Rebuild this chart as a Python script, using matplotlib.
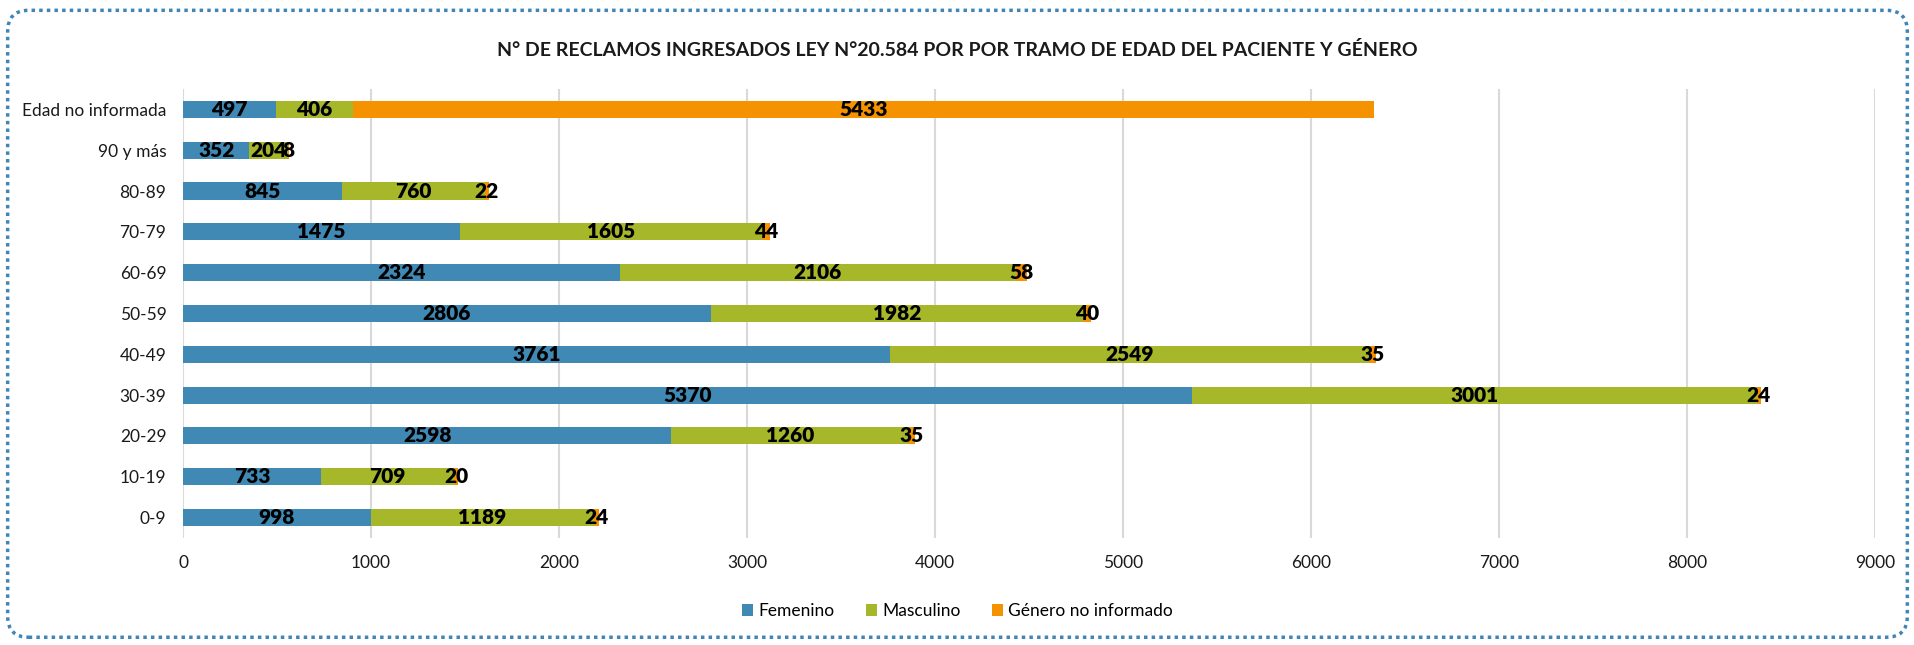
import matplotlib
matplotlib.use('Agg')
import numpy as np
import matplotlib.pyplot as plt
from matplotlib.patches import FancyBboxPatch

plt.rcParams['font.family'] = ['Lato', 'DejaVu Sans']

tramos = ['0-9', '10-19', '20-29', '30-39', '40-49', '50-59', '60-69',
          '70-79', '80-89', '90 y más', 'Edad no informada']
femenino = [998, 733, 2598, 5370, 3761, 2806, 2324, 1475, 845, 352, 497]
masculino = [1189, 709, 1260, 3001, 2549, 1982, 2106, 1605, 760, 204, 406]
no_informado = [24, 20, 35, 24, 35, 40, 58, 44, 22, 8, 5433]

c_fem = '#4189b5'
c_mas = '#a6b82a'
c_no = '#f59200'

fig = plt.figure(figsize=(19.15, 6.45), dpi=100)
ax = fig.add_axes([0.0956, 0.166, 0.8834, 0.696])

y = np.arange(len(tramos))
h = 0.42
left2 = np.array(femenino)
left3 = left2 + np.array(masculino)

b1 = ax.barh(y, femenino, height=h, color=c_fem, label='Femenino')
b2 = ax.barh(y, masculino, height=h, left=left2, color=c_mas, label='Masculino')
b3 = ax.barh(y, no_informado, height=h, left=left3, color=c_no, label='Género no informado')

for b in (b1, b2, b3):
    ax.bar_label(b, label_type='center', fontsize=15, fontweight='heavy', color='black')

ax.set_xlim(0, 9000)
ax.set_ylim(-0.5, 10.5)
ax.set_xticks(np.arange(0, 9001, 1000))
ax.set_yticks(y)
ax.set_yticklabels(tramos)
ax.tick_params(axis='both', length=0, labelsize=12.5, colors='#1a1a1a')
ax.tick_params(axis='x', pad=12)
ax.tick_params(axis='y', pad=12)
ax.xaxis.grid(True, color='#d9d9d9', linewidth=1.5)
ax.set_axisbelow(True)
for s in ax.spines.values():
    s.set_visible(False)

fig.text(0.5, 0.922, 'N° DE RECLAMOS INGRESADOS LEY N°20.584 POR POR TRAMO DE EDAD DEL PACIENTE Y GÉNERO',
         ha='center', va='center', fontsize=14, fontweight='bold', color='#1a1a1a')

fig.legend(handles=[b1, b2, b3], loc='center', bbox_to_anchor=(0.5, 0.053), ncol=3,
           frameon=False, fontsize=12.5, handlelength=0.65, handleheight=0.65,
           columnspacing=1.8, handletextpad=0.3)

border = FancyBboxPatch((0.004, 0.012), 0.992, 0.972, transform=fig.transFigure,
                        boxstyle='round,pad=0,rounding_size=0.011', fill=False,
                        edgecolor='#3f86b6', linewidth=2.5, linestyle=(0, (1, 1.2)),
                        mutation_aspect=3)
fig.patches.append(border)

fig.savefig('out.png', dpi=100)
